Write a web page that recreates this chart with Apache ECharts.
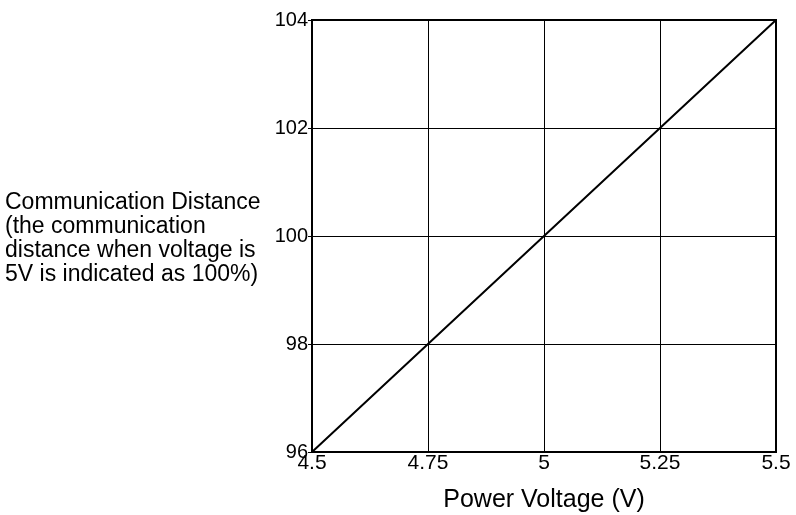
<!DOCTYPE html>
<html><head><meta charset="utf-8">
<script src="https://cdn.jsdelivr.net/npm/echarts@6/dist/echarts.min.js"></script>
<style>html,body{margin:0;padding:0;background:#fff}#c{width:796px;height:515px}</style>
</head><body><div id="c"></div>
<script>
const voltage = [4.5, 4.75, 5, 5.25, 5.5];
const distance = [96, 98, 100, 102, 104];
const xTitle = 'Power Voltage (V)';
const yTitleLines = ['Communication Distance', '(the communication', 'distance when voltage is', '5V is indicated as 100%)'];

const chart = echarts.init(document.getElementById('c'));
const font = 'Liberation Sans, Arial, sans-serif';
chart.setOption({
  animation: false,
  grid: {left: 312, right: 20, top: 20, bottom: 63, outerBoundsMode: 'none', containLabel: false, show: true, borderColor: '#000', borderWidth: 2, backgroundColor: 'transparent'},
  xAxis: {
    type: 'value', min: 4.5, max: 5.5, interval: 0.25,
    name: xTitle, nameLocation: 'middle', nameGap: 36,
    nameTextStyle: {color: '#000', fontSize: 25, fontFamily: font},
    axisLine: {show: true, lineStyle: {color: '#000', width: 2}},
    axisTick: {show: false},
    axisLabel: {color: '#000', fontSize: 21, fontFamily: font, margin: 1},
    splitLine: {show: true, lineStyle: {color: '#000', width: 1}}
  },
  yAxis: {
    type: 'value', min: 96, max: 104, interval: 2,
    axisLine: {show: true, lineStyle: {color: '#000', width: 2}},
    axisTick: {show: true, length: 4, lineStyle: {color: '#000'}},
    axisLabel: {color: '#000', fontSize: 20, fontFamily: font, margin: 4},
    splitLine: {show: true, lineStyle: {color: '#000', width: 1}}
  },
  graphic: [{
    type: 'text', left: 5, top: 191,
    style: {text: yTitleLines.join('\n'), font: '23px ' + font, fill: '#000', lineHeight: 24, textAlign: 'left'}
  }],
  series: [{
    type: 'line', data: voltage.map((v, i) => [v, distance[i]]),
    showSymbol: false, lineStyle: {color: '#000', width: 2}
  }]
});
</script></body></html>
